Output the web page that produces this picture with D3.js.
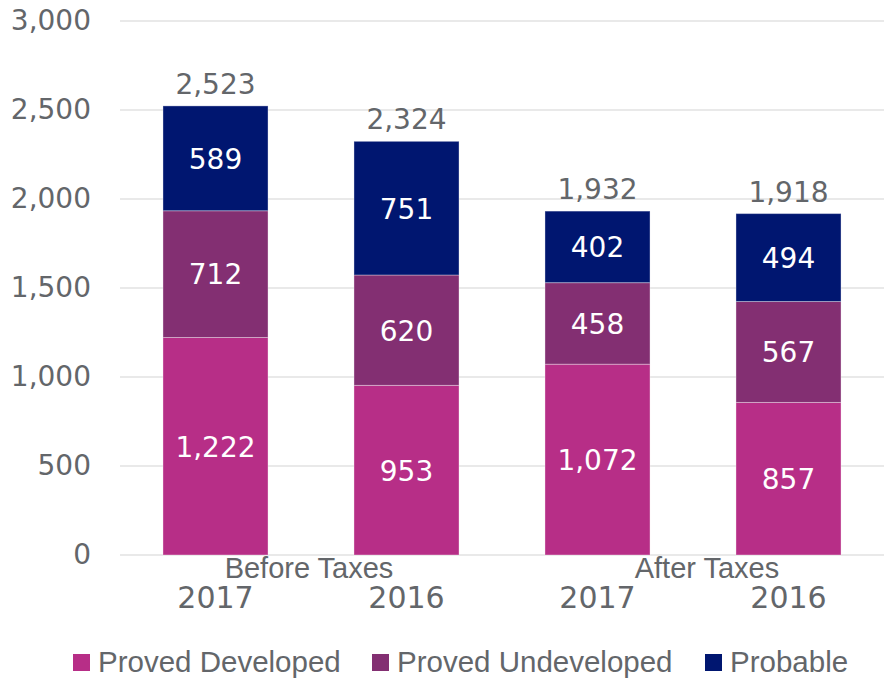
<!DOCTYPE html>
<html>
<head>
<meta charset="utf-8">
<script src="https://cdn.jsdelivr.net/npm/d3@7"></script>
<style>
  body { margin: 0; background: #fff; }
  svg text { font-family: "Liberation Sans", Arial, sans-serif; }
  .num { font-family: "DejaVu Sans", sans-serif; }
</style>
</head>
<body>
<div id="chart"></div>
<script>
// reserves by group / year
const groups = ["Before Taxes", "Before Taxes", "After Taxes", "After Taxes"];
const years = ["2017", "2016", "2017", "2016"];
const provedDeveloped = [1222, 953, 1072, 857];
const provedUndeveloped = [712, 620, 458, 567];
const probable = [589, 751, 402, 494];
const totals = [2523, 2324, 1932, 1918];
const seriesNames = ["Proved Developed", "Proved Undeveloped", "Probable"];
const colors = ["#B72E87", "#832F72", "#001670"];
const yTicks = [0, 500, 1000, 1500, 2000, 2500, 3000];

const width = 884;
const height = 678;
const margin = {top: 21, left: 120, right: 0, bottom: 123};
const textColor = "#63666A";

const svg = d3.select("#chart")
    .append("svg")
    .attr("width", width)
    .attr("height", height);

const data = years.map((y, i) => ({
    key: i,
    year: y,
    group: groups[i],
    "Proved Developed": provedDeveloped[i],
    "Proved Undeveloped": provedUndeveloped[i],
    "Probable": probable[i],
    total: totals[i]
}));

const xScale = d3.scaleBand()
    .domain(data.map(d => d.key))
    .range([margin.left, width - margin.right])
    .paddingInner(0.45)
    .paddingOuter(0.225);

const yScale = d3.scaleLinear()
    .domain([0, 3000])
    .range([height - margin.bottom, margin.top]);

// gridlines
svg.append("g")
    .selectAll("line")
    .data(yTicks)
    .enter()
    .append("line")
    .attr("x1", margin.left)
    .attr("x2", width)
    .attr("y1", d => yScale(d))
    .attr("y2", d => yScale(d))
    .attr("stroke", "#e2e2e2")
    .attr("stroke-width", 1.5);

// y axis labels
const yAxis = svg.append("g")
    .attr("transform", `translate(${margin.left - 10},0)`)
    .call(d3.axisLeft(yScale).tickValues(yTicks).tickSize(0).tickPadding(19).tickFormat(d3.format(",")));
yAxis.select(".domain").remove();
yAxis.selectAll("text")
    .attr("class", "num")
    .attr("font-size", 28)
    .attr("fill", textColor);

const stack = d3.stack().keys(seriesNames);
const stacked = stack(data);

const layers = svg.selectAll(".layer")
    .data(stacked)
    .enter()
    .append("g")
    .attr("class", "layer")
    .attr("fill", (d, i) => colors[i]);

layers.selectAll("rect")
    .data(d => d)
    .enter()
    .append("rect")
    .attr("x", d => xScale(d.data.key))
    .attr("width", xScale.bandwidth())
    .attr("y", d => yScale(d[1]))
    .attr("height", d => yScale(d[0]) - yScale(d[1]))
    .attr("stroke", "rgba(255,255,255,0.35)")
    .attr("stroke-width", 1);

layers.selectAll("text")
    .data(d => d)
    .enter()
    .append("text")
    .attr("class", "num")
    .attr("x", d => xScale(d.data.key) + xScale.bandwidth() / 2)
    .attr("y", d => (yScale(d[0]) + yScale(d[1])) / 2)
    .attr("dy", "0.37em")
    .attr("text-anchor", "middle")
    .attr("font-size", 28)
    .attr("fill", "#fff")
    .text(d => d3.format(",")(d[1] - d[0]));

// totals
svg.selectAll(".total")
    .data(data)
    .enter()
    .append("text")
    .attr("class", "num total")
    .attr("x", d => xScale(d.key) + xScale.bandwidth() / 2)
    .attr("y", d => yScale(d.total) - 12)
    .attr("text-anchor", "middle")
    .attr("font-size", 28)
    .attr("fill", textColor)
    .text(d => d3.format(",")(d.total));

// year labels
svg.selectAll(".year")
    .data(data)
    .enter()
    .append("text")
    .attr("class", "num year")
    .attr("x", d => xScale(d.key) + xScale.bandwidth() / 2)
    .attr("y", yScale(0) + 53)
    .attr("text-anchor", "middle")
    .attr("font-size", 30)
    .attr("fill", textColor)
    .text(d => d.year);

// group labels
const groupNames = ["Before Taxes", "After Taxes"];
const groupNudge = [-2, 14];
svg.selectAll(".group")
    .data(groupNames)
    .enter()
    .append("text")
    .attr("class", "group")
    .attr("x", (g, i) => {
        const keys = data.filter(d => d.group === g).map(d => xScale(d.key) + xScale.bandwidth() / 2);
        return d3.mean(keys) + groupNudge[i];
    })
    .attr("y", yScale(0) + 23)
    .attr("text-anchor", "middle")
    .attr("font-size", 29)
    .attr("fill", textColor)
    .text(g => g);

// legend
const legendX = [73, 372, 705];
const legend = svg.append("g")
    .selectAll("g")
    .data(seriesNames)
    .enter()
    .append("g")
    .attr("transform", (d, i) => `translate(${legendX[i]},654)`);

legend.append("rect")
    .attr("width", 17)
    .attr("height", 17)
    .attr("fill", (d, i) => colors[i]);

legend.append("text")
    .attr("x", 25)
    .attr("y", 18)
    .attr("font-size", 29.5)
    .attr("fill", textColor)
    .text(d => d);
</script>
</body>
</html>
